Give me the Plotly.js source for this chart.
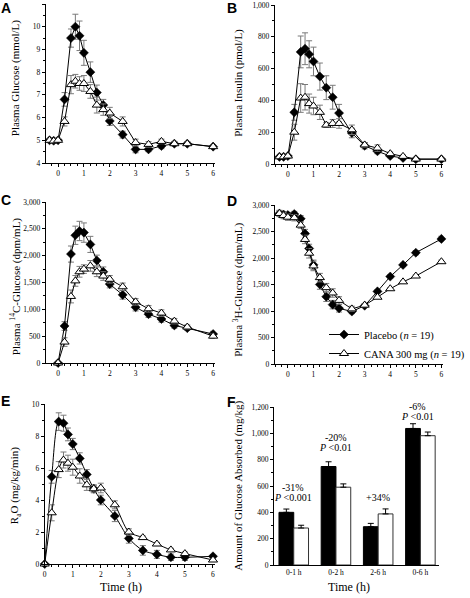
<!DOCTYPE html>
<html>
<head>
<meta charset="utf-8">
<script src="https://cdn.plot.ly/plotly-3.0.1.min.js"></script>
<style>html,body{margin:0;padding:0;background:#fff;}#chart{width:470px;height:598px;}</style>
</head>
<body>
<div id="chart"></div>
<script>
// ---- Data ----
const timeWithBaseline = [-0.33, -0.17, 0, 0.25, 0.5, 0.67, 0.83, 1, 1.25, 1.5, 1.75, 2, 2.5, 3, 3.5, 4, 4.5, 5, 6];
const timeFromZero = [0, 0.25, 0.5, 0.67, 0.83, 1, 1.25, 1.5, 1.75, 2, 2.5, 3, 3.5, 4, 4.5, 5, 6];

// A: Plasma glucose (mmol/L)
const glucosePlacebo = [5.0, 4.98, 5.0, 6.8, 9.5, 10.0, 9.6, 8.85, 8.0, 7.1, 6.55, 5.85, 5.25, 4.6, 4.6, 4.75, 4.85, 4.85, 4.72];
const glucosePlaceboErr = [0.08, 0.08, 0.08, 0.3, 0.4, 0.55, 0.65, 0.55, 0.45, 0.33, 0.25, 0.2, 0.15, 0.15, 0.1, 0.12, 0.1, 0.08, 0.08];
const glucoseCana = [5.0, 4.97, 5.0, 5.83, 7.45, 7.6, 7.5, 7.5, 7.15, 6.55, 6.35, 6.2, 5.83, 4.9, 4.82, 4.95, 4.85, 4.85, 4.72];
const glucoseCanaErr = [0.08, 0.08, 0.08, 0.2, 0.4, 0.3, 0.3, 0.35, 0.3, 0.35, 0.25, 0.25, 0.2, 0.15, 0.12, 0.1, 0.08, 0.08, 0.08];

// B: Plasma insulin (pmol/L)
const insulinPlacebo = [45, 45, 50, 325, 705, 725, 690, 645, 550, 480, 420, 320, 195, 115, 80, 50, 38, 30, 30];
const insulinPlaceboErr = [5, 5, 5, 50, 100, 100, 85, 90, 85, 75, 75, 55, 30, 20, 15, 10, 8, 5, 5];
const insulinCana = [45, 45, 50, 200, 415, 420, 380, 365, 325, 245, 255, 255, 215, 120, 100, 65, 48, 31, 31];
const insulinCanaErr = [5, 5, 5, 50, 90, 80, 60, 55, 45, 15, 25, 30, 30, 15, 20, 10, 8, 5, 5];

// C: Plasma 14C-glucose (dpm/mL)
const c14Placebo = [0, 690, 2030, 2380, 2460, 2430, 2210, 1910, 1700, 1470, 1270, 1040, 910, 820, 700, 650, 540];
const c14PlaceboErr = [0, 80, 150, 170, 180, 180, 150, 100, 90, 70, 80, 70, 60, 60, 50, 40, 50];
const c14Cana = [0, 390, 1240, 1530, 1700, 1750, 1810, 1700, 1620, 1560, 1420, 1140, 1010, 930, 780, 670, 500];
const c14CanaErr = [0, 80, 120, 100, 100, 80, 100, 90, 80, 70, 70, 60, 60, 60, 50, 40, 40];

// D: Plasma 3H-glucose (dpm/mL)
const h3Placebo = [2840, 2820, 2810, 2830, 2740, 2460, 2180, 1870, 1500, 1270, 1120, 1050, 990, 1100, 1370, 1650, 1870, 2100, 2360];
const h3PlaceboErr = [50, 50, 50, 50, 60, 80, 80, 90, 90, 90, 80, 70, 40, 30, 30, 30, 30, 40, 50];
const h3Cana = [2840, 2800, 2770, 2760, 2620, 2350, 2090, 1850, 1630, 1440, 1340, 1200, 1040, 1110, 1260, 1420, 1550, 1660, 1930];
const h3CanaErr = [60, 60, 60, 60, 60, 80, 90, 90, 80, 80, 80, 70, 50, 30, 20, 20, 20, 20, 30];

// E: RaO (mg/kg/min)
const raoPlacebo = [0, 5.45, 8.9, 8.8, 8.1, 7.5, 6.6, 5.6, 4.7, 4.0, 3.0, 1.6, 0.85, 0.6, 0.42, 0.42, 0.48];
const raoPlaceboErr = [0, 0.4, 0.55, 0.5, 0.4, 0.35, 0.35, 0.3, 0.25, 0.3, 0.35, 0.3, 0.3, 0.25, 0.2, 0.2, 0.1];
const raoCana = [0, 3.2, 5.9, 6.5, 6.3, 6.05, 5.5, 4.95, 4.7, 4.75, 3.7, 2.0, 1.65, 1.25, 0.88, 0.65, 0.25];
const raoCanaErr = [0, 0.5, 0.5, 0.5, 0.5, 0.5, 0.45, 0.35, 0.2, 0.3, 0.25, 0.2, 0.1, 0.1, 0.1, 0.1, 0.05];

// F: Amount of glucose absorbed (mg/kg)
const periods = ['0-1 h', '0-2 h', '2-6 h', '0-6 h'];
const absorbedPlacebo = [400, 748, 291, 1037];
const absorbedPlaceboErr = [25, 36, 25, 36];
const absorbedCana = [281, 591, 388, 982];
const absorbedCanaErr = [21, 25, 38, 28];
const changeLabels = ['-31%', '-20%', '+34%', '-6%'];
const pLabels = ['<i>P</i> &lt;0.001', '<i>P</i> &lt;0.01', '', '<i>P</i> &lt;0.01'];

const placeboName = 'Placebo (<i>n</i> = 19)';
const canaName = 'CANA 300 mg (<i>n</i> = 19)';

// ---- Styles ----
const W = 470, H = 598;
const SERIF = 'Liberation Serif';
const SANS = 'Liberation Sans';
function dx(a, b) { return [a / W, b / W]; }
function dy(top, bottom) { return [1 - bottom / H, 1 - top / H]; }

const placeboMarker = {symbol: 'diamond', size: 7, color: 'black', line: {color: 'black', width: 0.5}};
const canaMarker = {symbol: 'triangle-up', size: 8, color: 'white', line: {color: 'black', width: 1}};
function err(arr) { return {type: 'data', array: arr, visible: true, color: '#7a7a7a', thickness: 1, width: 3}; }

function series(x, y, e, xa, ya, isPlacebo, showLeg, spline) {
  return {
    type: 'scatter', mode: 'lines+markers', x: x, y: y, xaxis: xa, yaxis: ya,
    name: isPlacebo ? placeboName : canaName,
    legendgroup: isPlacebo ? 'p' : 'c',
    showlegend: showLeg,
    cliponaxis: false,
    line: {color: 'black', width: 1, shape: spline ? 'spline' : 'linear', smoothing: 0.8},
    marker: isPlacebo ? placeboMarker : canaMarker,
    error_y: err(e)
  };
}

const traces = [
  series(timeWithBaseline, glucosePlacebo, glucosePlaceboErr, 'x', 'y', true, false),
  series(timeWithBaseline, glucoseCana, glucoseCanaErr, 'x', 'y', false, false),
  series(timeWithBaseline, insulinPlacebo, insulinPlaceboErr, 'x2', 'y2', true, false),
  series(timeWithBaseline, insulinCana, insulinCanaErr, 'x2', 'y2', false, false),
  series(timeFromZero, c14Placebo, c14PlaceboErr, 'x3', 'y3', true, false),
  series(timeFromZero, c14Cana, c14CanaErr, 'x3', 'y3', false, false),
  series(timeWithBaseline, h3Placebo, h3PlaceboErr, 'x4', 'y4', true, true),
  series(timeWithBaseline, h3Cana, h3CanaErr, 'x4', 'y4', false, true),
  series(timeFromZero, raoPlacebo, raoPlaceboErr, 'x5', 'y5', true, false, true),
  series(timeFromZero, raoCana, raoCanaErr, 'x5', 'y5', false, false, true),
  {type: 'bar', x: periods, y: absorbedPlacebo, xaxis: 'x6', yaxis: 'y6', showlegend: false, name: 'Placebo',
   marker: {color: 'black', line: {color: 'black', width: 1}},
   error_y: {type: 'data', symmetric: false, array: absorbedPlaceboErr, arrayminus: absorbedPlaceboErr.map(() => 0), color: 'black', thickness: 1, width: 3}},
  {type: 'bar', x: periods, y: absorbedCana, xaxis: 'x6', yaxis: 'y6', showlegend: false, name: 'CANA 300 mg',
   marker: {color: 'white', line: {color: '#333', width: 1}},
   error_y: {type: 'data', symmetric: false, array: absorbedCanaErr, arrayminus: absorbedCanaErr.map(() => 0), color: 'black', thickness: 1, width: 3}}
];

const tickFont = {family: SERIF, size: 7.5, color: 'black'};
function axis(extra) {
  return Object.assign({
    showline: true, linecolor: 'black', linewidth: 1, mirror: false,
    ticks: 'outside', ticklen: 3, tickwidth: 1, tickcolor: 'black',
    showgrid: false, zeroline: false, tickfont: tickFont, fixedrange: true
  }, extra);
}
function timeAxis(domain, range, anchor) {
  return axis({domain: domain, range: range, anchor: anchor, tick0: 0, dtick: 1,
    minor: {ticks: 'outside', ticklen: 2, dtick: 0.25, tickcolor: 'black', showgrid: false}});
}
function valAxis(domain, range, dtick, anchor, fmt) {
  return axis({domain: domain, range: range, anchor: anchor, tick0: 0, dtick: dtick, tickformat: fmt || '',
    minor: {ticks: 'outside', ticklen: 2, dtick: dtick / 2, tickcolor: 'black', showgrid: false}});
}

const annotations = [];
function pAnn(text, x, y, opts) {
  annotations.push(Object.assign({text: text, x: x / W, y: 1 - y / H, xref: 'paper', yref: 'paper',
    showarrow: false, xanchor: 'center', yanchor: 'middle', font: {family: SERIF, size: 11, color: 'black'}}, opts || {}));
}
// panel letters
const letterFont = {family: SANS, size: 14, color: 'black'};
[['A', 6, 8], ['B', 244, 8], ['C', 6, 200], ['D', 244, 201], ['E', 6, 401], ['F', 243, 402]].forEach(l =>
  pAnn('<b>' + l[0] + '</b>', l[1], l[2], {font: letterFont}));
// y-axis titles
const yTitleFont = {family: SERIF, size: 11, color: 'black'};
pAnn('Plasma Glucose (mmol/L)', 16, 78, {textangle: -90, font: yTitleFont});
pAnn('Plasma Insulin (pmol/L)', 250, 83, {textangle: -90, font: yTitleFont});
pAnn('Plasma <sup>14</sup>C-Glucose (dpm/mL)', 16, 286, {textangle: -90, font: yTitleFont});
pAnn('Plasma <sup>3</sup>H-Glucose (dpm/mL)', 250, 290, {textangle: -90, font: yTitleFont});
pAnn('R<sub>a</sub>O (mg/kg/min)', 16, 486, {textangle: -90, font: yTitleFont});
pAnn('Amount of Glucose Absorbed (mg/kg)', 250, 486, {textangle: -90, font: yTitleFont});
// x-axis titles
pAnn('Time (h)', 127, 587, {font: {family: SERIF, size: 12, color: 'black'}});
pAnn('Time (h)', 367, 587, {font: {family: SERIF, size: 12, color: 'black'}});
// F significance labels
const sigFont = {family: SERIF, size: 10, color: 'black'};
const sigPos = [[308, 487], [353, 437], [397, 497], [439, 406]];
for (let i = 0; i < periods.length; i++) {
  pAnn(changeLabels[i], sigPos[i][0], sigPos[i][1], {font: sigFont});
  if (pLabels[i]) pAnn(pLabels[i], sigPos[i][0], sigPos[i][1] + 10.5, {font: sigFont});
}

const layout = {
  width: W, height: H,
  margin: {l: 0, r: 0, t: 0, b: 0, pad: 0},
  paper_bgcolor: 'white', plot_bgcolor: 'white',
  showlegend: true,
  barmode: 'group', bargap: 0.3, bargroupgap: 0,
  legend: {x: 341 / W, y: 1 - 320 / H, xanchor: 'left', yanchor: 'top', bgcolor: 'rgba(0,0,0,0)',
    font: {family: SERIF, size: 10.5, color: 'black'}, itemwidth: 30, tracegroupgap: 0},
  xaxis: timeAxis(dx(48, 226), [-0.48, 6.07], 'y'),
  yaxis: valAxis(dy(4, 163), [4, 11], 1, 'x'),
  xaxis2: timeAxis(dx(289, 466), [-0.51, 6.07], 'y2'),
  yaxis2: valAxis(dy(5, 164), [0, 1000], 200, 'x2', ','),
  xaxis3: timeAxis(dx(48, 226), [-0.48, 6.07], 'y3'),
  yaxis3: valAxis(dy(202, 363), [0, 3000], 500, 'x3', ','),
  xaxis4: timeAxis(dx(289, 466), [-0.51, 6.07], 'y4'),
  yaxis4: valAxis(dy(205, 364), [0, 3000], 500, 'x4', ','),
  xaxis5: timeAxis(dx(47, 226), [0, 6.07], 'y5'),
  yaxis5: valAxis(dy(404, 564), [0, 10], 2, 'x5'),
  xaxis6: axis({domain: dx(288, 462), range: [-0.47, 3.45], anchor: 'y6', type: 'category', ticks: '', ticklen: 0}),
  yaxis6: valAxis(dy(407, 565), [0, 1200], 200, 'x6', ','),
  annotations: annotations
};

Plotly.newPlot('chart', traces, layout, {staticPlot: true, displayModeBar: false});
</script>
</body>
</html>
